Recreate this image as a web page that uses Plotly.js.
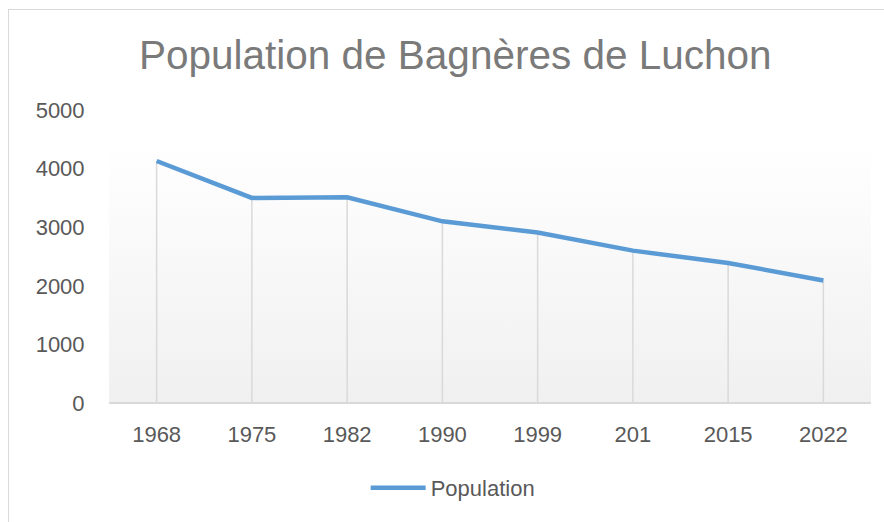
<!DOCTYPE html>
<html>
<head>
<meta charset="utf-8">
<script src="https://cdn.plot.ly/plotly-3.0.1.min.js"></script>
<style>
html,body{margin:0;padding:0;background:#fff;}
#wrap{position:relative;width:884px;height:522px;overflow:hidden;}
#border{position:absolute;left:8px;top:9px;width:900px;height:540px;border:1.5px solid #d9d9d9;box-sizing:border-box;pointer-events:none;}
#chart{position:absolute;left:0;top:0;width:884px;height:522px;}
</style>
</head>
<body>
<div id="wrap">
<div id="chart"></div>
<div id="border"></div>
</div>
<script>
const categories = ["1968", "1975", "1982", "1990", "1999", "201", "2015", "2022"];
const population = [4130, 3500, 3510, 3100, 2910, 2600, 2390, 2090];
const yTicks = [0, 1000, 2000, 3000, 4000, 5000];
const seriesName = "Population";
const chartTitle = "Population de Bagnères de Luchon";

// drop lines from each point to the axis
const dropX = [], dropY = [];
categories.forEach((c, i) => { dropX.push(c, c, null); dropY.push(population[i], 0, null); });

const gradSvg = '<svg xmlns="http://www.w3.org/2000/svg" width="100" height="100" preserveAspectRatio="none">' +
  '<defs><linearGradient id="g" x1="0" y1="0" x2="0" y2="1">' +
  '<stop offset="0" stop-color="#ffffff"/><stop offset="1" stop-color="#f0f0f0"/></linearGradient></defs>' +
  '<rect width="100" height="100" fill="url(#g)"/></svg>';
const gradUri = 'data:image/svg+xml;base64,' + btoa(gradSvg);

const traces = [
  {
    x: dropX, y: dropY, type: 'scatter', mode: 'lines',
    line: {color: '#d9d9d9', width: 1.5},
    hoverinfo: 'skip', showlegend: false
  },
  {
    x: categories, y: population, type: 'scatter', mode: 'lines',
    name: seriesName,
    line: {color: '#5b9bd5', width: 4.5}
  }
];

const layout = {
  width: 884, height: 522,
  margin: {l: 109, r: 13, t: 110, b: 119},
  paper_bgcolor: 'rgba(0,0,0,0)',
  plot_bgcolor: 'rgba(0,0,0,0)',
  font: {family: 'Liberation Sans, Arial, sans-serif', color: '#595959', size: 22},
  title: {
    text: chartTitle,
    font: {family: 'Liberation Sans, Arial, sans-serif', size: 40.5, color: '#7a7a7a'},
    x: 0.515, xanchor: 'center', y: 0.895, yanchor: 'middle', yref: 'container'
  },
  xaxis: {
    type: 'category', range: [-0.5, categories.length - 0.5],
    showgrid: false, zeroline: false, showline: false,
    ticks: 'outside', ticklen: 12, tickcolor: 'rgba(0,0,0,0)',
    tickfont: {size: 22, color: '#595959'}, fixedrange: true
  },
  yaxis: {
    range: [0, 5000], tickvals: yTicks, ticktext: yTicks.map(String),
    showgrid: false, zeroline: true, zerolinecolor: '#d9d9d9', zerolinewidth: 2,
    showline: false,
    ticks: 'outside', ticklen: 19, tickcolor: 'rgba(0,0,0,0)',
    tickfont: {size: 22, color: '#595959'}, fixedrange: true
  },
  images: [{
    source: gradUri, xref: 'paper', yref: 'paper',
    x: 0, y: (403 - 143) / 293, sizex: 1, sizey: (403 - 143) / 293,
    xanchor: 'left', yanchor: 'top', sizing: 'stretch', layer: 'below'
  }],
  showlegend: true,
  legend: {
    orientation: 'h', x: 0.451, xanchor: 'center', y: -0.29, yanchor: 'middle',
    itemwidth: 55,
    font: {size: 22, color: '#595959'}, bgcolor: 'rgba(0,0,0,0)'
  }
};

Plotly.newPlot('chart', traces, layout, {displayModeBar: false, staticPlot: true});
</script>
</body>
</html>
